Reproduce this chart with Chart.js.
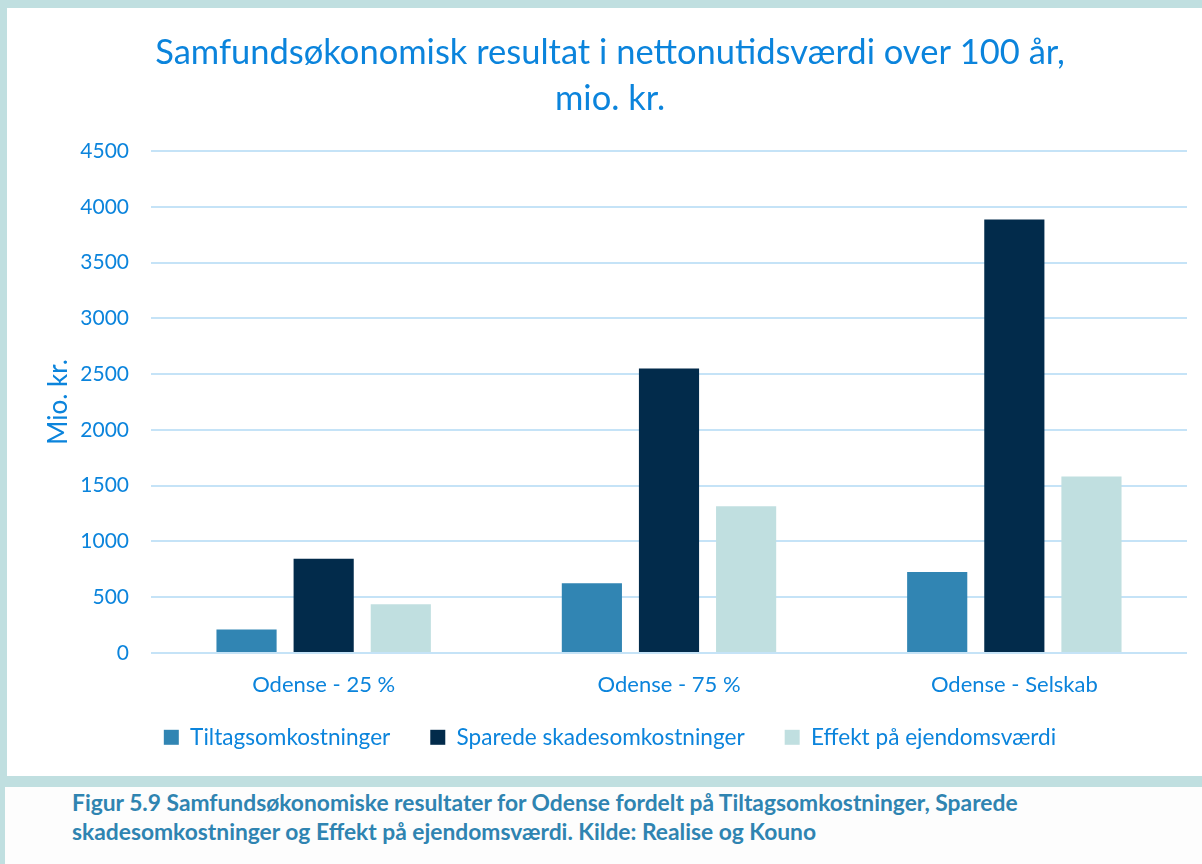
<!DOCTYPE html>
<html>
<head>
<meta charset="utf-8">
<script src="https://cdn.jsdelivr.net/npm/chart.js@4"></script>
<style>
  html, body { margin: 0; padding: 0; background: #c0dfe0; }
  #page { position: relative; width: 1202px; height: 864px; background: #c0dfe0; overflow: hidden; }
  #chartBox { position: absolute; left: 7px; top: 8px; width: 1195px; height: 768px; background: #fff; }
  #caption {
    position: absolute; left: 5px; top: 787px; width: 1197px; height: 77px; background: #fdfdfd;
    font-family: 'Lato', sans-serif; font-weight: bold; font-size: 22.8px; line-height: 29px;
    color: #2f84b1; padding: 1px 0 0 67px; box-sizing: border-box; white-space: nowrap;
  }
</style>
</head>
<body>
<div id="page">
  <div id="chartBox"><canvas id="barChart" width="1195" height="768"></canvas></div>
  <div id="caption">Figur 5.9 Samfundsøkonomiske resultater for Odense fordelt på Tiltagsomkostninger, Sparede<br>skadesomkostninger og Effekt på ejendomsværdi. Kilde: Realise og Kouno</div>
</div>
<script>
// data (mio. kr.)
const categories = ['Odense - 25 %', 'Odense - 75 %', 'Odense - Selskab'];
const tiltag = [210, 625, 725];
const sparede = [845, 2550, 3885];
const effekt = [437, 1315, 1583];
const seriesNames = ['Tiltagsomkostninger', 'Sparede skadesomkostninger', 'Effekt på ejendomsværdi'];

const textBlue = '#0b84dc';
Chart.defaults.font.family = "'Lato', sans-serif";
Chart.defaults.color = textBlue;

// legend: wide gaps between items but a short box, drawn a bit higher
const legendTweak = {
    id: 'legendTweak',
    beforeInit(chart) {
        const legend = chart.legend;
        const origFit = legend.fit;
        const origDraw = legend.draw;
        legend.fit = function() {
            origFit.call(this);
            this.height = 78;
        };
        legend.draw = function() {
            this.top -= 12;
            origDraw.call(this);
            this.top += 12;
        };
    }
};

const ctx = document.getElementById('barChart').getContext('2d');

new Chart(ctx, {
    type: 'bar',
    data: {
        labels: categories,
        datasets: [
            { label: seriesNames[0], data: tiltag, backgroundColor: '#3185b3' },
            { label: seriesNames[1], data: sparede, backgroundColor: '#022b4b' },
            { label: seriesNames[2], data: effekt, backgroundColor: '#c0dfe0' }
        ]
    },
    options: {
        responsive: false,
        animation: false,
        categoryPercentage: 0.67,
        barPercentage: 0.78,
        layout: { padding: { left: 26, right: 15, top: 0, bottom: 0 } },
        plugins: {
            title: {
                display: true,
                text: ['Samfundsøkonomisk resultat i nettonutidsværdi over 100 år,', 'mio. kr.'],
                color: textBlue,
                font: { size: 34.5, weight: 'normal', lineHeight: 1.333 },
                padding: { top: 22, bottom: 29 }
            },
            legend: {
                position: 'bottom',
                labels: {
                    color: textBlue,
                    font: { size: 22.6 },
                    boxWidth: 15,
                    boxHeight: 15,
                    padding: 40
                }
            },
            tooltip: { enabled: false }
        },
        scales: {
            x: {
                grid: { display: false, drawTicks: false },
                border: { display: false },
                ticks: { color: textBlue, font: { size: 22, lineHeight: 1.0 }, padding: 21 },
                afterFit: function(axis) { axis.height = 45; }
            },
            y: {
                min: 0,
                max: 4500,
                ticks: {
                    stepSize: 500,
                    color: textBlue,
                    font: { size: 21 },
                    padding: 22,
                    callback: function(value) { return String(value); }
                },
                grid: { color: '#c5e3f7', lineWidth: 2, drawTicks: false },
                border: { display: false },
                title: { display: true, text: 'Mio. kr.', color: textBlue, font: { size: 26 }, padding: 10 },
                afterFit: function(axis) { axis.width = 118; }
            }
        }
    },
    plugins: [legendTweak]
});
</script>
</body>
</html>
